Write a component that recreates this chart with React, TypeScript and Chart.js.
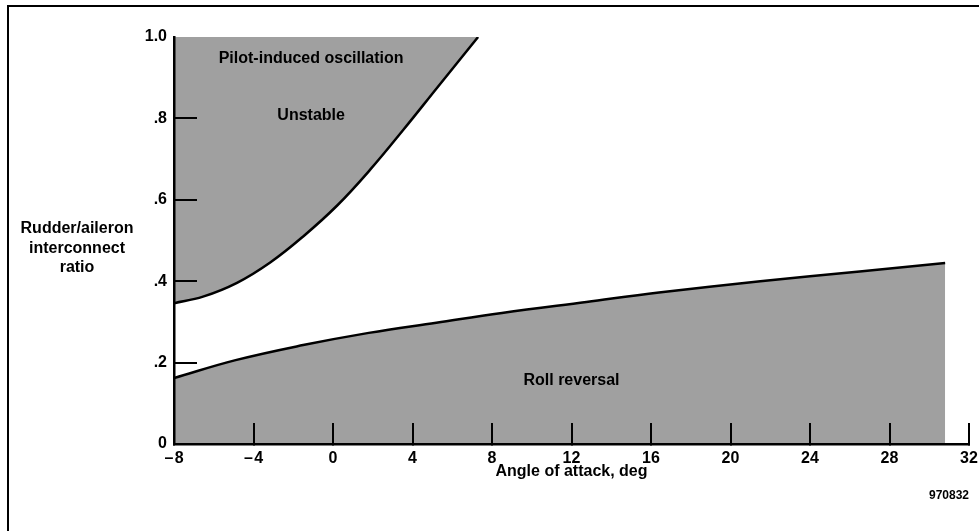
import React, { useEffect, useRef } from "react";
import { Chart, registerables } from "chart.js";

Chart.register(...registerables);

// Upper boundary (pilot-induced oscillation / unstable region)
const upperX = [-8, -6.54, -4.83, -3.16, -1.5, 0.21, 1.87, 3.54, 5.25, 7.3];
const upperY = [0.346, 0.362, 0.396, 0.446, 0.51, 0.586, 0.674, 0.772, 0.876, 1.0];

// Lower boundary (roll reversal region)
const lowerX = [-8, -4.9, -1.5, 1.8, 5.2, 8.5, 12.75, 16.4, 21.5, 26.5, 30.8];
const lowerY = [0.162, 0.206, 0.243, 0.273, 0.298, 0.322, 0.349, 0.372, 0.4, 0.424, 0.445];

// Axis ticks
const xTickValues = [-8, -4, 0, 4, 8, 12, 16, 20, 24, 28, 32];
const yTickValues = [0, 0.2, 0.4, 0.6, 0.8, 1.0];
const yTickLabels = ["0", ".2", ".4", ".6", ".8", "1.0"];

// Region annotations
const regionTexts = ["Pilot-induced oscillation", "Unstable", "Roll reversal"];
const regionX = [-1.1, -1.1, 12];
const regionY = [0.948, 0.806, 0.155];

const FONT = "'Liberation Sans', Arial, Helvetica, sans-serif";
const FILL = "#a0a0a0";

export default function App() {
  const canvasRef = useRef<HTMLCanvasElement | null>(null);

  useEffect(() => {
    if (!canvasRef.current) return;

    const textPlugin = {
      id: "regionText",
      afterDatasetsDraw(chart: any) {
        const ctx = chart.ctx;
        const xs = chart.scales.x;
        const ys = chart.scales.y;
        ctx.save();
        ctx.fillStyle = "#000";
        ctx.font = `bold 16px ${FONT}`;
        ctx.textAlign = "center";
        ctx.textBaseline = "middle";
        regionTexts.forEach((t, i) => {
          ctx.fillText(t, xs.getPixelForValue(regionX[i]), ys.getPixelForValue(regionY[i]));
        });
        ctx.restore();
      },
    };

    const chart = new Chart(canvasRef.current, {
      type: "line",
      data: {
        datasets: [
          {
            data: upperX.map((x, i) => ({ x, y: upperY[i] })),
            borderColor: "#000",
            borderWidth: 2.5,
            backgroundColor: FILL,
            fill: "end",
            pointRadius: 0,
            tension: 0.4,
          },
          {
            data: lowerX.map((x, i) => ({ x, y: lowerY[i] })),
            borderColor: "#000",
            borderWidth: 2.5,
            backgroundColor: FILL,
            fill: "origin",
            pointRadius: 0,
            tension: 0.4,
          },
        ],
      },
      options: {
        animation: false,
        responsive: true,
        maintainAspectRatio: false,
        layout: { padding: { top: 37, right: 10, bottom: 0, left: 0 } },
        plugins: {
          legend: { display: false },
          tooltip: { enabled: false },
        },
        scales: {
          x: {
            type: "linear",
            min: -8,
            max: 32,
            afterBuildTicks: (scale: any) => {
              scale.ticks = xTickValues.map((v) => ({ value: v }));
            },
            afterFit: (scale: any) => {
              scale.height = 87;
              scale.paddingLeft = 0;
              scale.paddingRight = 0;
            },
            grid: {
              drawOnChartArea: false,
              drawTicks: true,
              tickLength: -21,
              color: "#000",
              lineWidth: 2,
              z: 1,
            },
            border: { display: true, color: "#000", width: 2.5, z: 1 },
            ticks: {
              padding: 26,
              color: "#000",
              font: { family: FONT, size: 16, weight: "bold" },
              autoSkip: false,
              maxRotation: 0,
              callback: (v: any) => {
                const n = Number(v);
                return n < 0 ? "\u2013\u200A" + Math.abs(n) : String(n);
              },
            },
            title: {
              display: true,
              text: "Angle of attack, deg",
              color: "#000",
              font: { family: FONT, size: 16, weight: "bold" },
              padding: { top: 0, bottom: 50 },
            },
          },
          y: {
            type: "linear",
            min: 0,
            max: 1,
            afterBuildTicks: (scale: any) => {
              scale.ticks = yTickValues.map((v) => ({ value: v }));
            },
            afterFit: (scale: any) => {
              scale.width = 174;
              scale.paddingTop = 0;
              scale.paddingBottom = 0;
            },
            grid: {
              drawOnChartArea: false,
              drawTicks: true,
              tickLength: -23,
              color: (c: any) => (c.tick && c.tick.value >= 0.999 ? "rgba(0,0,0,0)" : "#000"),
              lineWidth: 2,
              z: 1,
            },
            border: { display: true, color: "#000", width: 2.5, z: 1 },
            ticks: {
              padding: 30,
              color: "#000",
              font: { family: FONT, size: 16, weight: "bold" },
              autoSkip: false,
              callback: (v: any) => {
                const idx = yTickValues.findIndex((t) => Math.abs(t - Number(v)) < 1e-6);
                return idx >= 0 ? yTickLabels[idx] : "";
              },
            },
          },
        },
      },
      plugins: [textPlugin],
    } as any);

    return () => chart.destroy();
  }, []);

  return (
    <div
      style={{
        position: "fixed",
        left: 0,
        top: 0,
        width: 979,
        height: 531,
        overflow: "hidden",
        background: "#fff",
        fontFamily: FONT,
      }}
    >
      <div
        style={{
          position: "absolute",
          left: 7,
          top: 5,
          width: 1000,
          height: 600,
          borderLeft: "2.5px solid #000",
          borderTop: "2.5px solid #000",
          boxSizing: "border-box",
        }}
      />
      <div style={{ position: "absolute", left: 0, top: 0, width: 979, height: 531 }}>
        <canvas ref={canvasRef} />
      </div>
      <div
        style={{
          position: "absolute",
          left: 7,
          top: 218,
          width: 140,
          textAlign: "center",
          fontWeight: "bold",
          fontSize: 16,
          lineHeight: "19.5px",
          color: "#000",
        }}
      >
        Rudder/aileron
        <br />
        interconnect
        <br />
        ratio
      </div>
      <div
        style={{
          position: "absolute",
          right: 979 - 969,
          top: 487,
          fontWeight: "bold",
          fontSize: 12,
          lineHeight: "16px",
          color: "#000",
        }}
      >
        970832
      </div>
    </div>
  );
}
